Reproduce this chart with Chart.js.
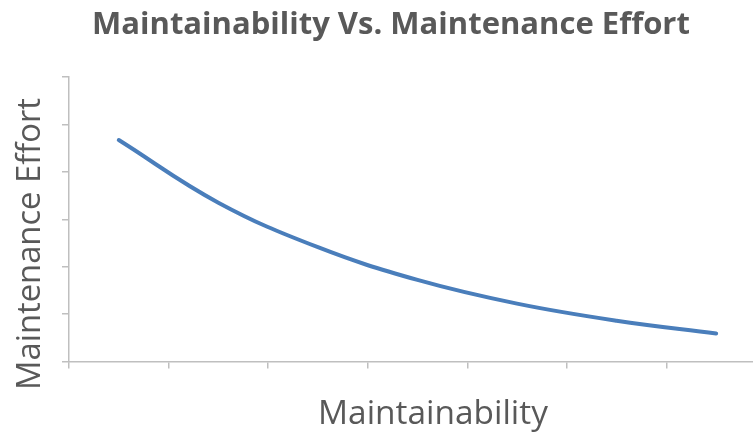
<!DOCTYPE html>
<html>
<head>
<meta charset="utf-8">
<script src="https://cdn.jsdelivr.net/npm/chart.js@4.4.1/dist/chart.umd.min.js"></script>
<style>
  html, body { margin: 0; padding: 0; background: #fff; overflow: hidden; }
  #wrap { position: relative; width: 753px; height: 434px; }
</style>
</head>
<body>
<div id="wrap"><canvas id="effortChart"></canvas></div>
<script>
/* Maintainability vs. maintenance effort — smooth line, no tick labels */

// category centres on the x axis (ticks sit between categories)
const maintainability = [0.5, 1.5, 2.5, 3.5, 4.5, 5.5, 6.5];
const effort          = [4.67, 3.35, 2.41, 1.72, 1.22, 0.86, 0.59];
const yTicks          = [0, 1, 2, 3, 4, 5, 6];
const xTicks          = [0, 1, 2, 3, 4, 5, 6];

const chartTitle = 'Maintainability Vs. Maintenance Effort';
const xTitle     = 'Maintainability';
const yTitle     = 'Maintenance Effort';

const TEXT = '#595959';
const AXIS = '#BFBFBF';
const FONT = '"Open Sans", "Liberation Sans", sans-serif';

// fit a string to a given width by scaling the font size
function fitFont(ctx, text, weight, width) {
  ctx.font = `${weight} 20px ${FONT}`;
  const size = 20 * width / ctx.measureText(text).width;
  return `${weight} ${size}px ${FONT}`;
}

const titlesPlugin = {
  id: 'titles',
  afterDraw(chart) {
    const ctx = chart.ctx;
    ctx.save();
    ctx.fillStyle = TEXT;
    ctx.textAlign = 'center';
    ctx.textBaseline = 'middle';

    ctx.font = fitFont(ctx, chartTitle, 'bold', 598);
    ctx.fillText(chartTitle, 391, 25);

    ctx.font = fitFont(ctx, xTitle, 'normal', 230);
    ctx.fillText(xTitle, 433, 414);

    ctx.translate(31, 244);
    ctx.rotate(-Math.PI / 2);
    ctx.font = fitFont(ctx, yTitle, 'normal', 292);
    ctx.fillText(yTitle, 0, 0);
    ctx.restore();
  }
};

function initChart() {
  const canvas = document.getElementById('effortChart');
  const ctx = canvas.getContext('2d');

  new Chart(ctx, {
    type: 'line',
    data: {
      datasets: [{
        data: maintainability.map((x, i) => ({ x, y: effort[i] })),
        borderColor:      '#4A7EBB',
        backgroundColor:  '#4A7EBB',
        borderWidth:      4,
        pointRadius:      0,
        tension:          0.4,
        borderCapStyle:   'round',
        fill:             false
      }]
    },
    options: {
      responsive: true,
      maintainAspectRatio: false,
      animation: false,
      layout: { padding: { left: 62, top: 77, right: 0, bottom: 65.5 } },
      plugins: {
        legend:  { display: false },
        tooltip: { enabled: false }
      },
      scales: {
        x: {
          type: 'linear',
          min: 0,
          max: 6.87,
          afterBuildTicks: s => { s.ticks = xTicks.map(v => ({ value: v })); },
          grid:   { drawOnChartArea: false, drawTicks: true, tickLength: 7, color: AXIS, lineWidth: 1.5 },
          border: { display: true, color: AXIS, width: 1.5 },
          ticks:  { display: false }
        },
        y: {
          min: 0,
          max: 6,
          afterBuildTicks: s => { s.ticks = yTicks.map(v => ({ value: v })); },
          grid:   { drawOnChartArea: false, drawTicks: true, tickLength: 7, color: AXIS, lineWidth: 1.5 },
          border: { display: true, color: AXIS, width: 1.5 },
          ticks:  { display: false }
        }
      }
    },
    plugins: [titlesPlugin]
  });
}

document.addEventListener('DOMContentLoaded', initChart);
</script>
</body>
</html>
